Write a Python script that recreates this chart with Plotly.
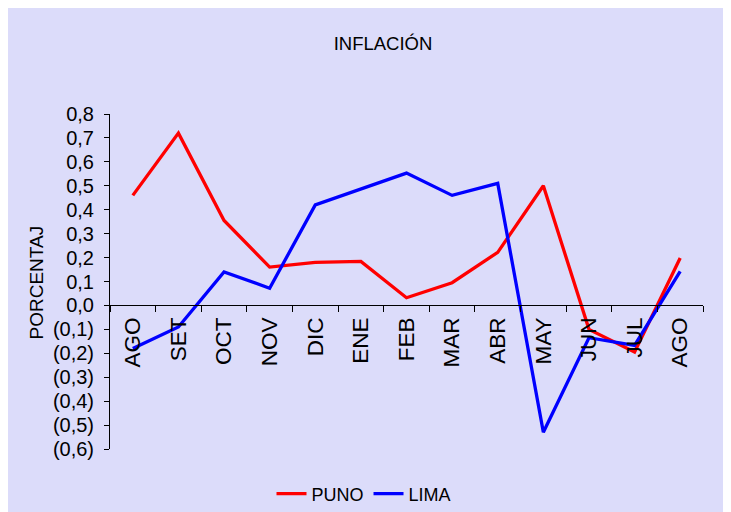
import plotly.graph_objects as go

months = ["AGO", "SET", "OCT", "NOV", "DIC", "ENE", "FEB", "MAR", "ABR", "MAY", "JUN", "JUL", "AGO"]
puno = [0.46, 0.72, 0.355, 0.16, 0.18, 0.184, 0.032, 0.095, 0.222, 0.50, -0.10, -0.195, 0.198]
lima = [-0.18, -0.09, 0.14, 0.072, 0.42, 0.487, 0.553, 0.46, 0.51, -0.53, -0.135, -0.167, 0.142]
y_ticks = [0.8, 0.7, 0.6, 0.5, 0.4, 0.3, 0.2, 0.1, 0.0, -0.1, -0.2, -0.3, -0.4, -0.5, -0.6]
y_labels = ["0,8", "0,7", "0,6", "0,5", "0,4", "0,3", "0,2", "0,1", "0,0",
            "(0,1)", "(0,2)", "(0,3)", "(0,4)", "(0,5)", "(0,6)"]

x = list(range(len(months)))
BG = "#DCDCFA"
FONT = "Liberation Sans, Arial, sans-serif"

# figure sits after the 8px body margin and runs past the window edges (clipped)
W, H = 740, 512
L, T = 102, 106
R, B = W - 695, H - 441
PW, PH = W - L - R, H - T - B

fig = go.Figure()
fig.add_trace(go.Scatter(x=x, y=puno, mode="lines", name="PUNO",
                         line=dict(color="#FF0000", width=3.3)))
fig.add_trace(go.Scatter(x=x, y=lima, mode="lines", name="LIMA",
                         line=dict(color="#0000FF", width=3.3)))

ymin, ymax = -0.6, 0.8
zero_pos = (0 - ymin) / (ymax - ymin)

fig.update_layout(
    width=W, height=H,
    margin=dict(l=L, r=R, t=T, b=B, autoexpand=False),
    paper_bgcolor=BG, plot_bgcolor=BG,
    font=dict(family=FONT, color="black"),
    showlegend=True,
    legend=dict(orientation="h", x=(356 - L) / PW, xanchor="center",
                yref="container", y=(H - 486) / H, yanchor="middle",
                bgcolor="rgba(0,0,0,0)", font=dict(family=FONT, size=18, color="black"),
                itemwidth=30, tracegroupgap=0),
    title=dict(text="INFLACIÓN", x=(375 - L) / PW, xref="paper", xanchor="center",
               y=1 - 36 / H, yref="container", yanchor="middle",
               font=dict(family=FONT, size=18.5, color="black")),
    xaxis=dict(range=[-0.5, 12.5], tickvals=x, ticktext=months, tickangle=-90,
               ticks="", ticklabelstandoff=2, automargin=False,
               minor=dict(ticks="outside", tick0=-0.5, dtick=1, ticklen=6, tickcolor="black", showgrid=False),
               showline=True, linecolor="black", linewidth=1,
               anchor="free", position=zero_pos, showgrid=False, zeroline=False,
               tickfont=dict(size=22.5, color="black")),
    yaxis=dict(range=[ymin, ymax], tickvals=y_ticks, ticktext=y_labels, automargin=False,
               ticks="outside", ticklen=5, tickcolor="black", ticklabelstandoff=6,
               showline=True, linecolor="black", linewidth=1,
               showgrid=False, zeroline=False,
               tickfont=dict(size=20, color="black")),
)

fig.add_annotation(text="PORCENTAJ", textangle=-90, xref="paper", yref="paper",
                   x=(28 - L) / PW, y=(T + PH - 274.5) / PH, xanchor="center", yanchor="middle",
                   showarrow=False, font=dict(family=FONT, size=19, color="black"))

fig.write_html("out.html",
               post_script="document.documentElement.style.overflow='hidden';"
                           "document.body.style.overflow='hidden';")
